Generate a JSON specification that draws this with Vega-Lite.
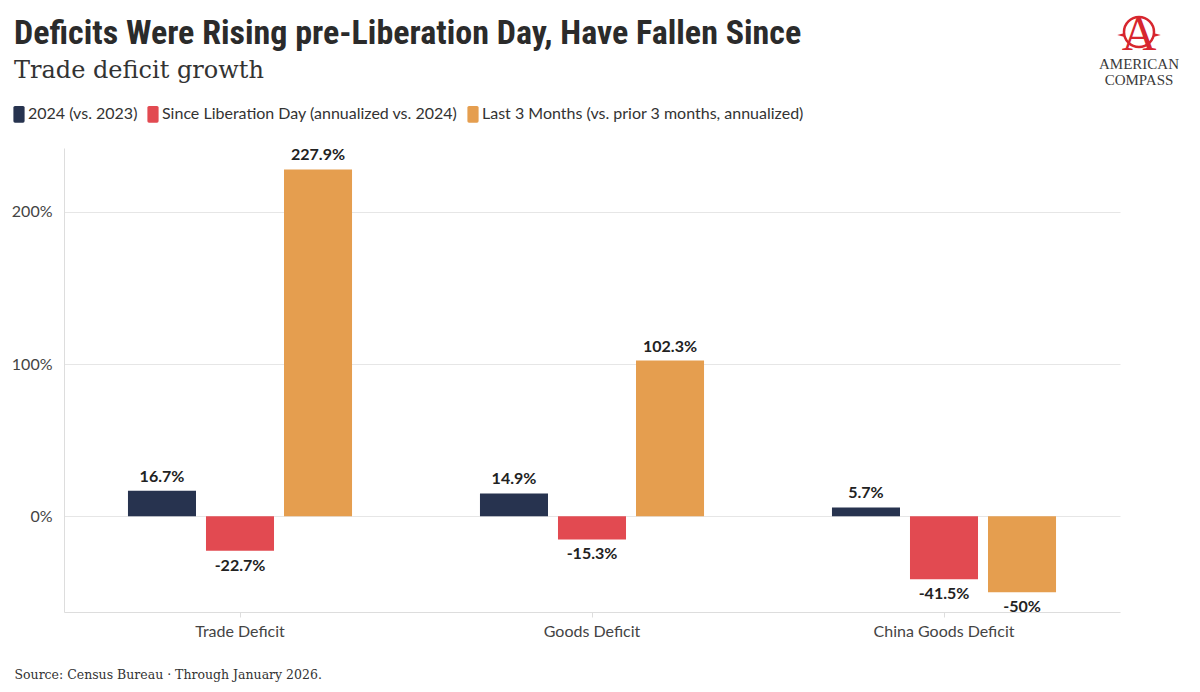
{
  "$schema": "https://vega.github.io/schema/vega-lite/v6.json",
  "autosize": {"type": "none"},
  "width": 1056,
  "height": 464,
  "padding": {"left": 64, "top": 148, "right": 80, "bottom": 80},
  "background": "white",
  "title": {
    "text": "Deficits Were Rising pre-Liberation Day, Have Fallen Since",
    "subtitle": "Trade deficit growth",
    "anchor": "start",
    "frame": "group",
    "dx": -50,
    "offset": -71,
    "font": "Roboto Condensed, Liberation Sans Narrow, DejaVu Sans Condensed, Roboto",
    "fontSize": 34,
    "fontWeight": "bold",
    "color": "#2b2b2b",
    "subtitleFont": "DejaVu Serif",
    "subtitleFontSize": 24,
    "subtitleColor": "#333333",
    "subtitlePadding": 8
  },
  "data": {
    "values": [
      {"category": "Trade Deficit", "series": "2024 (vs. 2023)", "value": 0.167},
      {"category": "Trade Deficit", "series": "Since Liberation Day (annualized vs. 2024)", "value": -0.227},
      {"category": "Trade Deficit", "series": "Last 3 Months (vs. prior 3 months, annualized)", "value": 2.279},
      {"category": "Goods Deficit", "series": "2024 (vs. 2023)", "value": 0.149},
      {"category": "Goods Deficit", "series": "Since Liberation Day (annualized vs. 2024)", "value": -0.153},
      {"category": "Goods Deficit", "series": "Last 3 Months (vs. prior 3 months, annualized)", "value": 1.023},
      {"category": "China Goods Deficit", "series": "2024 (vs. 2023)", "value": 0.057},
      {"category": "China Goods Deficit", "series": "Since Liberation Day (annualized vs. 2024)", "value": -0.415},
      {"category": "China Goods Deficit", "series": "Last 3 Months (vs. prior 3 months, annualized)", "value": -0.5}
    ]
  },
  "layer": [
    {
      "mark": {"type": "bar"},
      "encoding": {
        "x": {
          "field": "category",
          "type": "nominal",
          "sort": ["Trade Deficit", "Goods Deficit", "China Goods Deficit"],
          "scale": {"paddingInner": 0, "paddingOuter": 0},
          "axis": {
            "title": "Source: Census Bureau · Through January 2026.",
            "titleFont": "DejaVu Serif",
            "titleFontSize": 12.5,
            "titleFontWeight": "normal",
            "titleColor": "#333333",
            "titleAlign": "left",
            "titleBaseline": "alphabetic",
            "titleX": -50,
            "titleY": 66,
            "labelAngle": 0,
            "labelFont": "Lato",
            "labelFontSize": 16,
            "labelColor": "#444444",
            "labelPadding": 6,
            "tickSize": 5,
            "tickColor": "#dddddd",
            "domainColor": "#dddddd",
            "grid": false
          }
        },
        "xOffset": {
          "field": "series",
          "type": "nominal",
          "sort": ["2024 (vs. 2023)", "Since Liberation Day (annualized vs. 2024)", "Last 3 Months (vs. prior 3 months, annualized)"],
          "scale": {"paddingInner": 0.128, "paddingOuter": 0.82}
        },
        "y": {
          "field": "value",
          "type": "quantitative",
          "scale": {"domain": [-0.63, 2.42], "nice": false, "zero": false},
          "axis": {
            "title": null,
            "values": [0, 1, 2],
            "format": ".0%",
            "labelFont": "Lato",
            "labelFontSize": 16,
            "labelColor": "#444444",
            "labelPadding": 12,
            "ticks": false,
            "domainColor": "#dddddd",
            "gridColor": "#e6e6e6"
          }
        },
        "color": {
          "field": "series",
          "type": "nominal",
          "scale": {
            "domain": ["2024 (vs. 2023)", "Since Liberation Day (annualized vs. 2024)", "Last 3 Months (vs. prior 3 months, annualized)"],
            "range": ["#27334f", "#e24a51", "#e59e4f"]
          },
          "legend": {
            "title": null,
            "orient": "none",
            "direction": "horizontal",
            "legendX": -53,
            "legendY": -42,
            "symbolType": "M-0.5,-1.05L0.5,-1.05Q0.7,-1.05 0.7,-0.85L0.7,0.85Q0.7,1.05 0.5,1.05L-0.5,1.05Q-0.7,1.05 -0.7,0.85L-0.7,-0.85Q-0.7,-1.05 -0.5,-1.05Z",
            "symbolSize": 256,
            "symbolStrokeWidth": 0,
            "symbolOpacity": 1,
            "labelFont": "Lato",
            "labelFontSize": 16,
            "labelColor": "#333333",
            "labelOffset": 1,
            "labelLimit": 400,
            "columnPadding": 7
          }
        }
      }
    },
    {
      "transform": [{"filter": "datum.value >= 0"}],
      "mark": {"type": "text", "baseline": "bottom", "dy": -6, "font": "Lato", "fontSize": 16, "fontWeight": "bold", "color": "#222222"},
      "encoding": {
        "x": {"field": "category", "type": "nominal", "sort": ["Trade Deficit", "Goods Deficit", "China Goods Deficit"]},
        "xOffset": {"field": "series", "type": "nominal", "sort": ["2024 (vs. 2023)", "Since Liberation Day (annualized vs. 2024)", "Last 3 Months (vs. prior 3 months, annualized)"]},
        "y": {"field": "value", "type": "quantitative"},
        "text": {"field": "value", "type": "quantitative", "format": ".1~%"}
      }
    },
    {
      "transform": [{"filter": "datum.value < 0"}],
      "mark": {"type": "text", "baseline": "top", "dy": 7, "font": "Lato", "fontSize": 16, "fontWeight": "bold", "color": "#222222"},
      "encoding": {
        "x": {"field": "category", "type": "nominal", "sort": ["Trade Deficit", "Goods Deficit", "China Goods Deficit"]},
        "xOffset": {"field": "series", "type": "nominal", "sort": ["2024 (vs. 2023)", "Since Liberation Day (annualized vs. 2024)", "Last 3 Months (vs. prior 3 months, annualized)"]},
        "y": {"field": "value", "type": "quantitative"},
        "text": {"field": "value", "type": "quantitative", "format": ".1~%"}
      }
    },
    {
      "data": {"values": [{"logo": "ring"}]},
      "mark": {"type": "point", "shape": "circle", "filled": false, "stroke": "#d7262e", "strokeWidth": 2.5, "opacity": 1, "size": 900, "x": {"expr": "width + 19"}, "y": -116},
      "encoding": {}
    },
    {
      "data": {"values": [{"logo": "points"}]},
      "mark": {"type": "point", "shape": "M-1.45,0L-0.95,-0.13L-0.95,0.13Z M1.45,0L0.95,-0.13L0.95,0.13Z", "filled": true, "color": "#d7262e", "opacity": 1, "size": 900, "x": {"expr": "width + 19"}, "y": -113},
      "encoding": {}
    },
    {
      "data": {"values": [{"logo": "A"}]},
      "mark": {"type": "text", "font": "Liberation Serif", "fontSize": 48, "color": "#d7262e", "baseline": "alphabetic", "align": "center", "x": {"expr": "width + 19"}, "y": -98},
      "encoding": {"text": {"field": "logo"}}
    },
    {
      "data": {"values": [{"logo": "AMERICAN"}]},
      "mark": {"type": "text", "font": "Liberation Serif", "fontSize": 15, "color": "#3a3a3a", "baseline": "alphabetic", "align": "center", "x": {"expr": "width + 19"}, "y": -79},
      "encoding": {"text": {"field": "logo"}}
    },
    {
      "data": {"values": [{"logo": "COMPASS"}]},
      "mark": {"type": "text", "font": "Liberation Serif", "fontSize": 15, "color": "#3a3a3a", "baseline": "alphabetic", "align": "center", "x": {"expr": "width + 19"}, "y": -63},
      "encoding": {"text": {"field": "logo"}}
    }
  ],
  "config": {
    "view": {"stroke": null},
    "locale": {
      "number": {"decimal": ".", "thousands": ",", "grouping": [3], "currency": ["$", ""], "minus": "-"}
    }
  }
}
